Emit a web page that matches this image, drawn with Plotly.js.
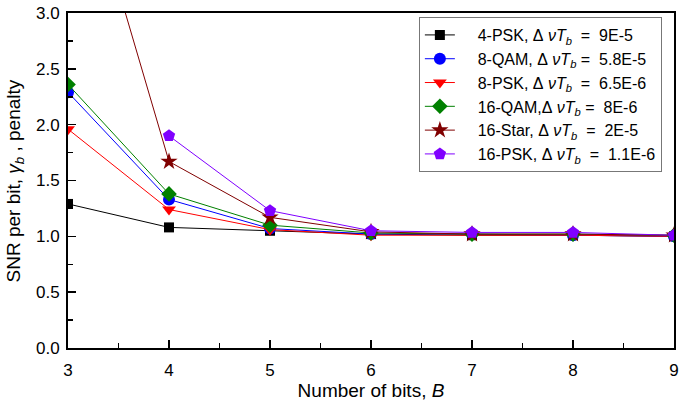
<!DOCTYPE html>
<html>
<head>
<meta charset="utf-8">
<script src="https://cdn.plot.ly/plotly-3.0.1.min.js"></script>
<style>
html,body{margin:0;padding:0;background:#fff;}
#chart{width:679px;height:402px;}
</style>
</head>
<body>
<div id="chart"></div>
<script>
const bits = [3, 4, 5, 6, 7, 8, 9];
const psk4 = [1.29, 1.08, 1.05, 1.02, 1.01, 1.01, 1.00];
const qam8 = [2.29, 1.33, 1.07, 1.02, 1.02, 1.01, 1.00];
const psk8 = [1.96, 1.24, 1.06, 1.01, 1.01, 1.01, 1.00];
const qam16 = [2.36, 1.38, 1.10, 1.03, 1.02, 1.02, 1.01];
const star16 = [4.75, 1.67, 1.17, 1.04, 1.02, 1.02, 1.01];
const psk16 = [null, 1.90, 1.23, 1.05, 1.035, 1.035, 1.01];

const pre = '&nbsp;&nbsp;&nbsp;&nbsp;';
const dnt = 'Δ&nbsp;<i>νT</i><sub><i>b</i></sub>';
const names = [
  pre + '4-PSK,&nbsp;' + dnt + '&nbsp;&nbsp;=&nbsp;&nbsp;9E-5',
  pre + '8-QAM,&nbsp;' + dnt + '&nbsp;=&nbsp;&nbsp;5.8E-5',
  pre + '8-PSK,&nbsp;' + dnt + '&nbsp;&nbsp;=&nbsp;&nbsp;6.5E-6',
  pre + '16-QAM,' + dnt + '&nbsp;=&nbsp;&nbsp;8E-6',
  pre + '16-Star,&nbsp;' + dnt + '&nbsp;&nbsp;=&nbsp;&nbsp;2E-5',
  pre + '16-PSK,&nbsp;' + dnt + '&nbsp;&nbsp;=&nbsp;&nbsp;1.1E-6'
];
const series = [psk4, qam8, psk8, qam16, star16, psk16];
const colors = ['#000000', '#0000ff', '#ff0000', '#008000', '#800000', '#8000ff'];
const symbols = ['square', 'circle', 'triangle-down', 'diamond', 'star', 'pentagon'];
const sizes = [10, 12, 12, 12, 13, 13];

const traces = series.map((ys, i) => ({
  x: bits, y: ys, name: names[i], type: 'scatter', mode: 'lines+markers',
  line: {color: colors[i], width: 1},
  marker: {color: colors[i], symbol: symbols[i], size: sizes[i], line: {width: 0}}
}));

const layout = {
  width: 679, height: 402,
  margin: {l: 68, r: 5, t: 13, b: 54},
  paper_bgcolor: '#fff', plot_bgcolor: '#fff',
  font: {family: 'Liberation Sans, Arial, sans-serif', size: 17, color: '#000'},
  showlegend: true,
  legend: {
    x: 0.579, xanchor: 'left', y: 0.988, yanchor: 'top',
    bgcolor: '#fff', bordercolor: '#777', borderwidth: 1,
    font: {size: 16}, tracegroupgap: 0, itemwidth: 30
  },
  xaxis: {
    range: [3, 9], tickmode: 'linear', tick0: 3, dtick: 1,
    ticks: 'inside', ticklen: 8, tickwidth: 1.5, tickcolor: '#000',
    minor: {ticks: 'inside', dtick: 0.5, ticklen: 5, tickwidth: 1.5, tickcolor: '#000'},
    showline: true, linecolor: '#000', linewidth: 2, mirror: true,
    showgrid: false, zeroline: false, ticklabelstandoff: 6,
    title: {text: 'Number of bits, <i>B</i>', font: {size: 19}, standoff: 4},
    tickfont: {size: 17}
  },
  yaxis: {
    range: [0, 3], tickmode: 'linear', tick0: 0, dtick: 0.5, tickformat: '.1f',
    ticks: 'inside', ticklen: 8, tickwidth: 1.5, tickcolor: '#000',
    minor: {ticks: 'inside', dtick: 0.25, ticklen: 5, tickwidth: 1.5, tickcolor: '#000'},
    showline: true, linecolor: '#000', linewidth: 2, mirror: true,
    showgrid: false, zeroline: false, ticklabelstandoff: 3,
    tickfont: {size: 17}
  },
  annotations: [{
    text: 'SNR per bit, <i>γ</i><sub><i>b</i></sub> , penalty',
    xref: 'paper', yref: 'paper', x: -0.0875, y: 0.5,
    xanchor: 'center', yanchor: 'middle', textangle: -90,
    showarrow: false, font: {size: 19}
  }]
};

Plotly.newPlot('chart', traces, layout, {displayModeBar: false, staticPlot: true});
</script>
</body>
</html>
